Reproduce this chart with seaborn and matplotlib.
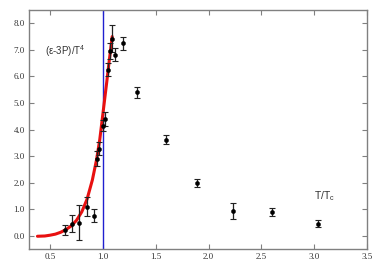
import matplotlib
matplotlib.use("Agg")
import matplotlib.pyplot as plt
import seaborn as sns
import pandas as pd
from matplotlib.ticker import FormatStrFormatter

# data points (T/Tc, (e-3P)/T^4, error)
t_ratio = [0.644, 0.704, 0.774, 0.849, 0.912, 0.946, 0.965, 1.003, 1.017, 1.044,
           1.065, 1.085, 1.112, 1.19, 1.324, 1.60, 1.895, 2.233, 2.60, 3.035]
trace = [0.22, 0.45, 0.49, 1.10, 0.75, 2.90, 3.28, 4.15, 4.40, 6.25,
         6.95, 7.42, 6.82, 7.24, 5.40, 3.62, 1.99, 0.93, 0.90, 0.46]
trace_err = [0.19, 0.32, 0.66, 0.35, 0.25, 0.28, 0.25, 0.22, 0.25, 0.25,
             0.30, 0.50, 0.25, 0.25, 0.20, 0.18, 0.15, 0.30, 0.15, 0.13]

# red model curve
curve_x = [0.38, 0.45, 0.5, 0.55, 0.6, 0.65, 0.7, 0.75, 0.8, 0.85, 0.9, 0.94,
           0.97, 1.0, 1.035, 1.06, 1.088]
curve_y = [-0.02, -0.01, 0.02, 0.06, 0.13, 0.23, 0.37, 0.58, 0.9, 1.38, 2.1, 2.87,
           3.62, 4.6, 5.75, 6.6, 7.5]

x_ticks = [0.5, 1.0, 1.5, 2.0, 2.5, 3.0, 3.5]
y_ticks = [0.0, 1.0, 2.0, 3.0, 4.0, 5.0, 6.0, 7.0, 8.0]

sns.set_style("ticks")
plt.rcParams['font.family'] = ['Liberation Serif', 'DejaVu Serif']
plt.rcParams['mathtext.default'] = 'regular'

fig = plt.figure(figsize=(3.82, 2.67), dpi=100)
ax = fig.add_axes([0.0759, 0.0674, 0.8848, 0.8951])

pts = pd.DataFrame({"t": t_ratio, "v": trace, "e": trace_err})
crv = pd.DataFrame({"t": curve_x, "v": curve_y})

ax.axvline(1.0, color="#2020d0", lw=1.0, zorder=1)
sns.lineplot(data=crv, x="t", y="v", ax=ax, color="#e81010", lw=2.2, zorder=2)
ax.errorbar(pts["t"], pts["v"], yerr=pts["e"], fmt="none", ecolor="#222222",
            elinewidth=0.9, capsize=2.0, capthick=0.8, zorder=3)
sns.scatterplot(data=pts, x="t", y="v", ax=ax, color="black", s=9, marker="o",
                edgecolor="black", linewidth=0.3, zorder=4)

ax.set_xlim(0.3, 3.5)
ax.set_ylim(-0.5, 8.5)
ax.set_xticks(x_ticks)
ax.set_yticks(y_ticks)
ax.xaxis.set_major_formatter(FormatStrFormatter("%.1f"))
ax.yaxis.set_major_formatter(FormatStrFormatter("%.1f"))
ax.tick_params(direction="in", length=3.5, width=0.8, color="#808080",
               labelsize=6.5, top=True, right=True, pad=3, labelcolor="#333333")
for s in ax.spines.values():
    s.set_color("#808080")
    s.set_linewidth(1.0)
ax.set_xlabel("")
ax.set_ylabel("")

ax.text(0.45, 6.95, "(ε-3P)/T$^{4}$", fontsize=7, family=["Liberation Sans", "DejaVu Sans"],
        ha="left", va="center", color="#333333")
ax.text(3.0, 1.48, "T/T$_{c}$", fontsize=7.5, family=["Liberation Sans", "DejaVu Sans"],
        ha="left", va="center", color="#333333")

fig.savefig("out.png", dpi=100)
